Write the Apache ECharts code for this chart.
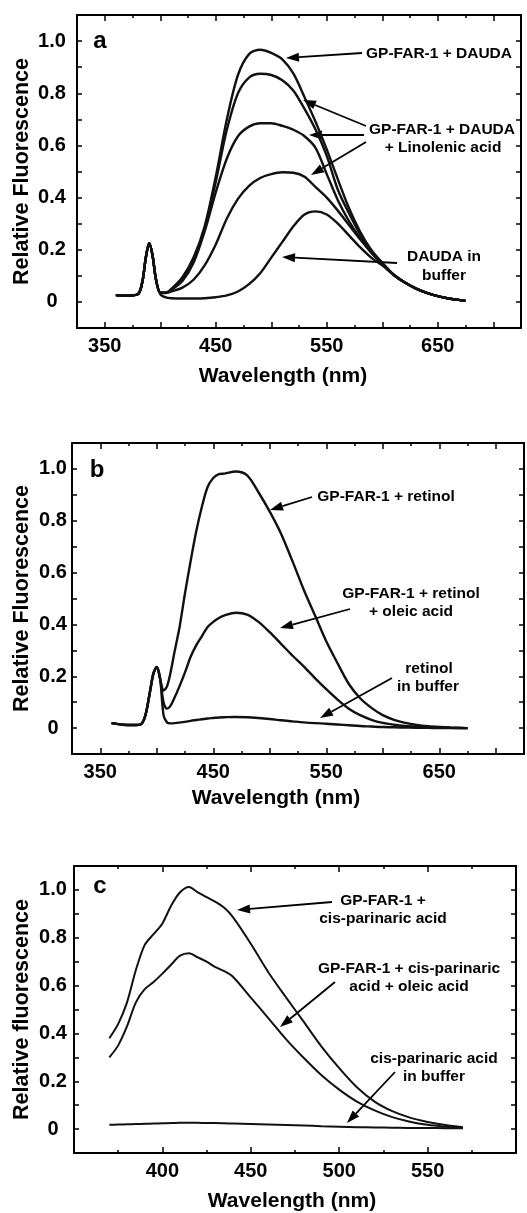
<!DOCTYPE html>
<html>
<head>
<meta charset="utf-8">
<title>GP-FAR-1 fluorescence spectra</title>
<script src="https://cdn.jsdelivr.net/npm/echarts@6/dist/echarts.min.js"></script>
<style>
  html, body { margin: 0; padding: 0; background: #fff; }
  #main { width: 527px; height: 1213px; }
</style>
</head>
<body>
<div id="main"></div>
<script>
// ---- panel a : DAUDA ----
const wavelengthA = [360, 370, 380, 384, 387, 390, 393, 396, 400, 405, 410, 420, 430, 440, 450, 460, 470, 480, 490, 500,
  510, 520, 530, 540, 550, 560, 570, 580, 590, 600, 610, 620, 630, 640, 650, 660, 670, 675]
const daudaFar1 = [0.026, 0.024, 0.03, 0.08, 0.17, 0.225, 0.18, 0.09, 0.035, 0.035, 0.05, 0.095, 0.17, 0.29, 0.48, 0.70, 0.87, 0.95, 0.967, 0.955,
  0.93, 0.875, 0.785, 0.69, 0.585, 0.47, 0.36, 0.27, 0.20, 0.15, 0.105, 0.075, 0.052, 0.035, 0.022, 0.013, 0.007, 0.004]
const daudaLin1 = [0.026, 0.024, 0.03, 0.08, 0.17, 0.225, 0.18, 0.09, 0.035, 0.035, 0.048, 0.09, 0.165, 0.28, 0.46, 0.66, 0.80, 0.86, 0.875, 0.87,
  0.85, 0.81, 0.74, 0.66, 0.56, 0.43, 0.34, 0.26, 0.195, 0.148, 0.105, 0.075, 0.052, 0.035, 0.022, 0.013, 0.007, 0.004]
const daudaLin2 = [0.026, 0.024, 0.03, 0.08, 0.17, 0.225, 0.18, 0.09, 0.035, 0.035, 0.046, 0.08, 0.15, 0.27, 0.42, 0.55, 0.635, 0.672, 0.685, 0.685,
  0.675, 0.66, 0.635, 0.59, 0.49, 0.39, 0.31, 0.245, 0.19, 0.145, 0.105, 0.075, 0.052, 0.035, 0.022, 0.013, 0.007, 0.004]
const daudaLin3 = [0.026, 0.024, 0.03, 0.08, 0.17, 0.225, 0.18, 0.09, 0.035, 0.034, 0.04, 0.055, 0.085, 0.14, 0.22, 0.32, 0.395, 0.445, 0.475, 0.49,
  0.497, 0.495, 0.48, 0.44, 0.40, 0.35, 0.295, 0.24, 0.19, 0.148, 0.105, 0.075, 0.052, 0.035, 0.022, 0.013, 0.007, 0.004]
const daudaBuffer = [0.026, 0.024, 0.03, 0.08, 0.17, 0.225, 0.18, 0.09, 0.03, 0.017, 0.014, 0.013, 0.013, 0.014, 0.018, 0.025, 0.04, 0.068, 0.11, 0.17,
  0.23, 0.29, 0.335, 0.347, 0.335, 0.30, 0.255, 0.21, 0.17, 0.14, 0.105, 0.075, 0.052, 0.035, 0.022, 0.013, 0.007, 0.004]

// ---- panel b : retinol ----
const wavelengthB = [360, 370, 380, 386, 390, 394, 397, 400, 403, 406, 409, 412, 416, 420, 425, 430, 435, 440, 445, 450,
  455, 460, 470, 480, 490, 500, 510, 520, 530, 540, 550, 560, 570, 580, 590, 600, 610, 620, 630, 640, 650, 660, 675]
const retinolFar1 = [0.019, 0.013, 0.012, 0.015, 0.05, 0.14, 0.21, 0.236, 0.19, 0.145, 0.16, 0.21, 0.30, 0.385, 0.52, 0.645, 0.76, 0.855, 0.93, 0.965,
  0.98, 0.982, 0.99, 0.975, 0.91, 0.835, 0.75, 0.645, 0.535, 0.435, 0.335, 0.25, 0.17, 0.115, 0.078, 0.05, 0.032, 0.02, 0.012, 0.007, 0.004, 0.002, 0]
const retinolOleic = [0.019, 0.013, 0.012, 0.015, 0.05, 0.14, 0.21, 0.236, 0.19, 0.10, 0.075, 0.085, 0.12, 0.16, 0.215, 0.275, 0.32, 0.355, 0.39, 0.41,
  0.425, 0.435, 0.445, 0.438, 0.41, 0.37, 0.325, 0.28, 0.238, 0.193, 0.15, 0.11, 0.075, 0.05, 0.032, 0.02, 0.013, 0.008, 0.005, 0.003, 0.002, 0.001, 0]
const retinolBuffer = [0.019, 0.013, 0.012, 0.015, 0.05, 0.14, 0.21, 0.236, 0.19, 0.05, 0.022, 0.018, 0.019, 0.021, 0.024, 0.028, 0.031, 0.034, 0.037, 0.039,
  0.041, 0.042, 0.043, 0.042, 0.039, 0.035, 0.03, 0.026, 0.022, 0.019, 0.017, 0.014, 0.011, 0.008, 0.006, 0.004, 0.003, 0.002, 0.001, 0.001, 0, 0, 0]

// ---- panel c : cis-parinaric acid ----
const wavelengthC = [370, 375, 380, 385, 390, 395, 400, 405, 410, 415, 420, 425, 430, 435, 440, 450, 460, 470, 480, 490,
  500, 510, 520, 530, 540, 550, 560, 570]
const parinaricFar1 = [0.38, 0.44, 0.53, 0.665, 0.77, 0.815, 0.86, 0.935, 0.99, 1.012, 0.99, 0.97, 0.95, 0.925, 0.885, 0.775, 0.655, 0.55, 0.448, 0.345,
  0.255, 0.175, 0.115, 0.075, 0.048, 0.03, 0.017, 0.008]
const parinaricOleic = [0.30, 0.35, 0.43, 0.53, 0.585, 0.615, 0.65, 0.688, 0.725, 0.735, 0.718, 0.70, 0.677, 0.66, 0.636, 0.55, 0.463, 0.375, 0.297, 0.225,
  0.165, 0.115, 0.078, 0.05, 0.031, 0.018, 0.01, 0.004]
const parinaricBuffer = [0.018, 0.019, 0.02, 0.021, 0.022, 0.023, 0.024, 0.025, 0.026, 0.026, 0.026, 0.025, 0.025, 0.024, 0.023, 0.021, 0.019, 0.017, 0.015, 0.012,
  0.01, 0.008, 0.007, 0.006, 0.005, 0.005, 0.004, 0.004]

// tick labels
const xLabelsAB = [350, 450, 550, 650]
const xLabelsC = [400, 450, 500, 550]
const yLabels = [0, 0.2, 0.4, 0.6, 0.8, 1.0]

const FONT = '"Liberation Sans", Arial, Helvetica, sans-serif'
const BLACK = '#000'

const chart = echarts.init(document.getElementById('main'))

function fmtY(v) {
    const k = Math.round(v * 10)
    const hit = yLabels.find(l => Math.round(l * 10) === k)
    if (hit === undefined) return ''
    return hit === 0 ? '0' : hit.toFixed(1)
}

// four x axes per grid: bottom (labels + short ticks), bottom long ticks, top short, top long
function xAxes(g, min, max, labels, nameGap, shift) {
    const longTicks = []
    for (let v = min; v <= max; v += 25) {
        if ((v % 50) === 0) longTicks.push(v)
    }
    const base = {type: 'value', gridIndex: g, min: min, max: max, interval: 25, splitLine: {show: false}}
    const line = {show: true, onZero: false, lineStyle: {color: BLACK, width: 2}}
    const tickStyle = {color: BLACK, width: 1.5}
    return [
        Object.assign({}, base, {
            position: 'bottom',
            axisLine: line,
            axisTick: {show: true, inside: true, length: 3, lineStyle: tickStyle},
            axisLabel: {
                margin: 8, color: BLACK, fontFamily: FONT, fontSize: 20, fontWeight: 'bold',
                formatter: v => labels.indexOf(Math.round(v)) >= 0 ? String(Math.round(v)) : ''
            },
            name: 'Wavelength (nm)',
            nameLocation: 'middle',
            nameGap: nameGap,
            nameMoveOverlap: false,
            nameTextStyle: {color: BLACK, fontFamily: FONT, fontSize: 21, fontWeight: 'bold', padding: [0, shift * 2, 0, 0]}
        }),
        Object.assign({}, base, {
            position: 'bottom',
            axisLine: {show: false, onZero: false},
            axisLabel: {show: false},
            axisTick: {show: true, inside: true, length: 6, customValues: longTicks, lineStyle: tickStyle}
        }),
        Object.assign({}, base, {
            position: 'top',
            axisLine: line,
            axisLabel: {show: false},
            axisTick: {show: true, inside: true, length: 3, lineStyle: tickStyle}
        }),
        Object.assign({}, base, {
            position: 'top',
            axisLine: {show: false, onZero: false},
            axisLabel: {show: false},
            axisTick: {show: true, inside: true, length: 6, customValues: longTicks, lineStyle: tickStyle}
        })
    ]
}

function yAxes(g, name, nameGap, labelMargin) {
    const base = {type: 'value', gridIndex: g, min: -0.1, max: 1.1, interval: 0.1, splitLine: {show: false}}
    const line = {show: true, onZero: false, lineStyle: {color: BLACK, width: 2}}
    return [
        Object.assign({}, base, {
            position: 'left',
            axisLine: line,
            axisTick: {show: true, inside: true, length: 5, lineStyle: {color: BLACK, width: 1.5}},
            axisLabel: {
                margin: labelMargin, align: 'center', color: BLACK, fontFamily: FONT, fontSize: 20, fontWeight: 'bold',
                formatter: fmtY
            },
            name: name,
            nameLocation: 'middle',
            nameGap: nameGap,
            nameMoveOverlap: false,
            nameTextStyle: {color: BLACK, fontFamily: FONT, fontSize: 21.5, fontWeight: 'bold'}
        }),
        Object.assign({}, base, {
            position: 'right',
            axisLine: line,
            axisLabel: {show: false},
            axisTick: {show: true, inside: true, length: 5, lineStyle: {color: BLACK, width: 1.5}}
        })
    ]
}

function curve(g, name, xs, ys, width) {
    return {
        name: name,
        type: 'line',
        xAxisIndex: g * 4,
        yAxisIndex: g * 2,
        data: xs.map((x, i) => [x, ys[i]]),
        showSymbol: false,
        smooth: 0.3,
        lineStyle: {color: '#111', width: width},
        silent: true
    }
}

// annotation helpers (pixel positions in the page)
function label(text, x, y) {
    return {
        type: 'text', x: x, y: y, silent: true,
        style: {text: text, fill: BLACK, font: 'bold 15.5px ' + FONT, align: 'center', verticalAlign: 'middle'}
    }
}

function panelLetter(text, x, y) {
    return {
        type: 'text', x: x, y: y, silent: true,
        style: {text: text, fill: BLACK, font: 'bold 24px ' + FONT, align: 'center', verticalAlign: 'middle'}
    }
}

function arrow(x1, y1, x2, y2) {
    const dx = x2 - x1, dy = y2 - y1
    const len = Math.hypot(dx, dy)
    const ux = dx / len, uy = dy / len
    const bx = x2 - ux * 13, by = y2 - uy * 13
    return [
        {type: 'line', silent: true, shape: {x1: x1, y1: y1, x2: bx, y2: by}, style: {stroke: BLACK, lineWidth: 1.8}},
        {
            type: 'polygon', silent: true,
            shape: {points: [[x2, y2], [bx - uy * 4.5, by + ux * 4.5], [bx + uy * 4.5, by - ux * 4.5]]},
            style: {fill: BLACK}
        }
    ]
}

const graphics = [
    panelLetter('a', 100, 41),
    label('GP-FAR-1 + DAUDA', 439, 54),
    label('GP-FAR-1 + DAUDA', 442, 130),
    label('+ Linolenic acid', 443, 148),
    label('DAUDA in', 444, 257),
    label('buffer', 444, 276),
    ...arrow(362, 53, 286, 58),
    ...arrow(366, 126, 303, 100),
    ...arrow(364, 135, 309, 135),
    ...arrow(366, 142, 311, 175),
    ...arrow(397, 263, 282, 257),

    panelLetter('b', 97, 470),
    label('GP-FAR-1 + retinol', 386, 497),
    label('GP-FAR-1 + retinol', 411, 594),
    label('+ oleic acid', 411, 612),
    label('retinol', 429, 669),
    label('in buffer', 428, 687),
    ...arrow(312, 497, 270, 510),
    ...arrow(350, 609, 280, 628),
    ...arrow(392, 678, 320, 718),

    panelLetter('c', 100, 886),
    label('GP-FAR-1 +', 383, 901),
    label('cis-parinaric acid', 383, 919),
    label('GP-FAR-1 + cis-parinaric', 409, 969),
    label('acid + oleic acid', 409, 987),
    label('cis-parinaric acid', 434, 1059),
    label('in buffer', 434, 1077),
    ...arrow(332, 902, 237, 910),
    ...arrow(335, 982, 280, 1027),
    ...arrow(395, 1072, 347, 1123)
]

const option = {
    animation: false,
    backgroundColor: '#fff',
    grid: [
        {left: 77, top: 15, width: 444, height: 313},
        {left: 72, top: 443, width: 457, height: 311},
        {left: 74, top: 866, width: 442, height: 289}
    ],
    xAxis: [
        ...xAxes(0, 325, 725, xLabelsAB, 38, 16),
        ...xAxes(1, 325, 725, xLabelsAB, 34, 22),
        ...xAxes(2, 350, 600, xLabelsC, 38, 3)
    ],
    yAxis: [
        ...yAxes(0, 'Relative Fluorescence', 44, 25),
        ...yAxes(1, 'Relative Fluorescence', 39, 19),
        ...yAxes(2, 'Relative fluorescence', 41, 21)
    ],
    series: [
        curve(0, 'GP-FAR-1 + DAUDA', wavelengthA, daudaFar1, 2.4),
        curve(0, 'GP-FAR-1 + DAUDA + Linolenic acid (low)', wavelengthA, daudaLin1, 2.4),
        curve(0, 'GP-FAR-1 + DAUDA + Linolenic acid (mid)', wavelengthA, daudaLin2, 2.4),
        curve(0, 'GP-FAR-1 + DAUDA + Linolenic acid (high)', wavelengthA, daudaLin3, 2.4),
        curve(0, 'DAUDA in buffer', wavelengthA, daudaBuffer, 2.4),
        curve(1, 'GP-FAR-1 + retinol', wavelengthB, retinolFar1, 2.4),
        curve(1, 'GP-FAR-1 + retinol + oleic acid', wavelengthB, retinolOleic, 2.4),
        curve(1, 'retinol in buffer', wavelengthB, retinolBuffer, 2.4),
        curve(2, 'GP-FAR-1 + cis-parinaric acid', wavelengthC, parinaricFar1, 2),
        curve(2, 'GP-FAR-1 + cis-parinaric acid + oleic acid', wavelengthC, parinaricOleic, 2),
        curve(2, 'cis-parinaric acid in buffer', wavelengthC, parinaricBuffer, 2)
    ],
    graphic: graphics
}

chart.setOption(option)
</script>
</body>
</html>
